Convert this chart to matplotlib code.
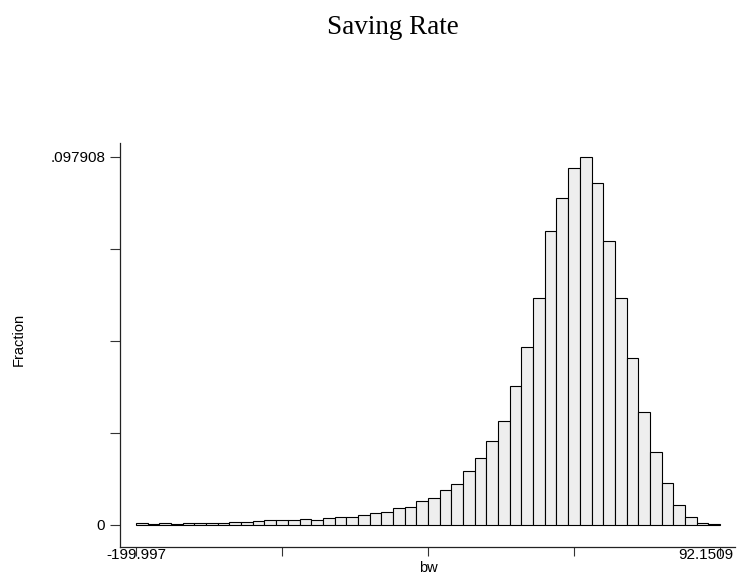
import numpy as np
import matplotlib
matplotlib.use("Agg")
import matplotlib.pyplot as plt
from matplotlib.transforms import ScaledTranslation

# Histogram of the saving rate: 50 equal-width bins between the sample min and max
x_min = -199.997
x_max = 92.1509
fractions = [
    0.0004, 0.00035, 0.0004, 0.00035, 0.0004, 0.0006, 0.0006, 0.0006, 0.0008, 0.0008,
    0.0010, 0.0012, 0.0012, 0.0014, 0.0015, 0.0014, 0.0019, 0.0021, 0.0021, 0.0027,
    0.0032, 0.0034, 0.0044, 0.0049, 0.0064, 0.0072, 0.0093, 0.0108, 0.0143, 0.0178,
    0.0223, 0.0278, 0.0369, 0.0474, 0.0605, 0.0783, 0.0871, 0.0951, 0.097908, 0.0910,
    0.0755, 0.0604, 0.0444, 0.0301, 0.0193, 0.0112, 0.0054, 0.0022, 0.0006, 0.0003,
]
x_tick_labels = ["-199.997", "", "", "", "92.1509"]
y_max = 0.097908
y_tick_labels = ["0", "", "", "", ".097908"]
title = "Saving Rate"
x_label = "bw"
y_label = "Fraction"

W, H = 739, 578
fig = plt.figure(figsize=(W / 100, H / 100), dpi=100)
fig.patch.set_facecolor("white")

sans = ["Liberation Sans", "DejaVu Sans"]
serif = ["Liberation Serif", "DejaVu Serif"]

ax = fig.add_axes([120 / W, 1 - 547 / H, (735 - 120) / W, (547 - 143) / H])

n_bins = len(fractions)
edges = np.linspace(x_min, x_max, n_bins + 1)
width = edges[1] - edges[0]
ax.bar(edges[:-1], fractions, width=width, align="edge",
       color="#eeeeee", edgecolor="black", linewidth=0.8)

# axis ranges
px_x = (x_max - x_min) / (720 - 136)
ax.set_xlim(x_min - 16 * px_x, x_max + 15 * px_x)
px_y = y_max / (525 - 157)
ax.set_ylim(-22 * px_y, y_max + 14 * px_y)

ax.set_xticks(np.linspace(x_min, x_max, len(x_tick_labels)))
ax.set_xticklabels(x_tick_labels, family=sans, fontsize=11)
ax.set_yticks(np.linspace(0, y_max, len(y_tick_labels)))
ax.set_yticklabels(y_tick_labels, family=sans, fontsize=11)

ax.tick_params(axis="x", direction="out", length=6.5, width=0.8, pad=-5.5, color="#333333")
ax.tick_params(axis="y", direction="out", length=7.2, width=0.8, pad=3.5, color="#333333")

# keep the last x label inside the figure
last = ax.get_xticklabels()[-1]
last.set_transform(last.get_transform() + ScaledTranslation(-14 / 100, 0, fig.dpi_scale_trans))

for side in ("top", "right"):
    ax.spines[side].set_visible(False)
for side in ("left", "bottom"):
    ax.spines[side].set_linewidth(0.9)
    ax.spines[side].set_color("#222222")

fig.text(393 / W, 1 - 34 / H, title, family=serif, fontsize=19.5,
         ha="center", va="baseline")
fig.text(428 / W, 1 - 568 / H, x_label, family=sans, fontsize=10.5,
         ha="center", va="center")
fig.text(19 / W, 1 - 339 / H, y_label, family=sans, fontsize=10.5,
         ha="center", va="center", rotation=90)

fig.savefig("out.png", dpi=100)
